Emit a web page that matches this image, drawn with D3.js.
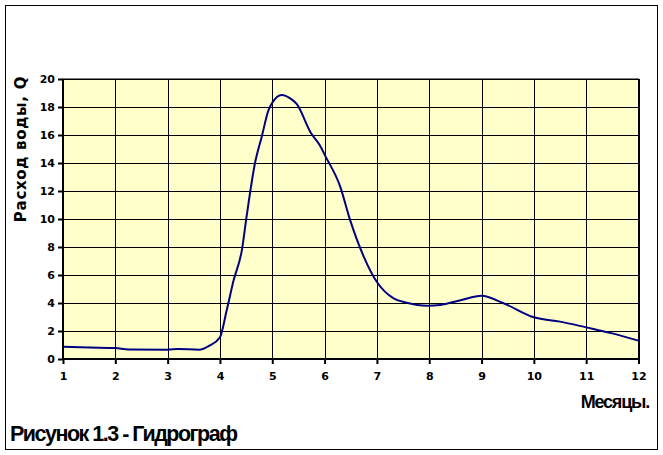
<!DOCTYPE html>
<html><head><meta charset="utf-8">
<script src="https://cdn.jsdelivr.net/npm/d3@7/dist/d3.min.js"></script>
<style>
html,body{margin:0;padding:0;background:#fff;}
svg{display:block;}
</style></head>
<body>
<script>
const months = [1, 1.5, 2, 2.25, 3, 3.2, 3.6, 3.8, 4, 4.13, 4.26, 4.42, 4.51, 4.67, 4.8, 4.93, 5.0, 5.18, 5.35, 5.47, 5.73, 5.92, 6, 6.3, 6.49, 6.75, 7, 7.32, 7.57, 7.96, 8.21, 8.6, 9.0, 9.42, 10, 10.5, 11, 11.5, 12];
const flow = [0.88, 0.82, 0.78, 0.68, 0.66, 0.72, 0.66, 0.95, 1.55, 3.5, 5.6, 7.8, 10.2, 14.0, 15.9, 17.8, 18.3, 18.86, 18.6, 18.2, 16.2, 15.2, 14.6, 12.3, 9.9, 7.3, 5.5, 4.33, 4.02, 3.81, 3.86, 4.2, 4.52, 3.98, 2.98, 2.67, 2.26, 1.83, 1.31];
const xTicks = [1,2,3,4,5,6,7,8,9,10,11,12];
const yTicks = [0,2,4,6,8,10,12,14,16,18,20];
const yTitle = "Расход воды, Q";
const xTitle = "Месяцы.";
const caption = "Рисунок 1.3 - Гидрограф";

const W = 663, H = 455;
const svg = d3.select("body").append("svg").attr("width", W).attr("height", H);

// outer frame
svg.append("rect").attr("x",5.5).attr("y",5.5).attr("width",652).attr("height",444)
  .attr("fill","#fff").attr("stroke","#000").attr("stroke-width",1);

const x = d3.scaleLinear().domain([1,12]).range([63,638.5]);
const y = d3.scaleLinear().domain([0,20]).range([359,79]);

// plot area
svg.append("rect").attr("x",x(1)).attr("y",y(20)).attr("width",x(12)-x(1)).attr("height",y(0)-y(20))
  .attr("fill","#FFFFCC").attr("stroke","#000").attr("stroke-width",1);

// grid
const g = svg.append("g");
g.selectAll(".hg").data(yTicks.slice(1)).enter().append("line")
  .attr("x1",x(1)).attr("x2",x(12)).attr("y1",d=>Math.round(y(d))+0.5).attr("y2",d=>Math.round(y(d))+0.5)
  .attr("stroke","#000").attr("stroke-width",1);
g.selectAll(".vg").data(xTicks.slice(1)).enter().append("line")
  .attr("y1",y(0)).attr("y2",y(20)).attr("x1",d=>Math.round(x(d))+0.5).attr("x2",d=>Math.round(x(d))+0.5)
  .attr("stroke","#000").attr("stroke-width",1);

// axes
const yAxis = d3.axisLeft(y).tickValues(yTicks).tickSize(5).tickPadding(3).tickFormat(d3.format("d"));
const xAxis = d3.axisBottom(x).tickValues(xTicks).tickSize(5).tickPadding(8).tickFormat(d3.format("d"));
const ya = svg.append("g").attr("transform","translate(63,0)").call(yAxis);
const xa = svg.append("g").attr("transform","translate(0,359)").call(xAxis);
[ya,xa].forEach(a=>{
  a.select(".domain").attr("stroke","#000").attr("stroke-width",2);
  a.selectAll(".tick line").attr("stroke","#000").attr("stroke-width",2);
  a.selectAll("text").attr("font-family","'DejaVu Sans', Verdana, sans-serif").attr("font-weight","bold")
    .attr("font-size","11px").attr("fill","#000");
});
xa.select(".domain").attr("d", `M${x(1)},0H${x(12)}`);
ya.select(".domain").attr("d", `M0,${y(0)}V${y(20)}`);

// line
const line = d3.line().x((d,i)=>x(months[i])).y(d=>y(d)).curve(d3.curveMonotoneX);
svg.append("path").datum(flow).attr("d",line).attr("fill","none")
  .attr("stroke","#000080").attr("stroke-width",2);

// titles
svg.append("text").attr("transform","translate(26,149) rotate(-90)").attr("text-anchor","middle")
  .attr("font-family","'DejaVu Sans', Verdana, sans-serif").attr("font-weight","bold").attr("font-size","15px")
  .attr("letter-spacing","0.7px").text(yTitle);
svg.append("text").attr("x",649).attr("y",408).attr("text-anchor","end")
  .attr("font-family","'Liberation Sans', Arial, sans-serif").attr("font-weight","bold").attr("font-size","18px")
  .attr("letter-spacing","-1.2px").text(xTitle);
svg.append("text").attr("x",10).attr("y",441)
  .attr("font-family","'Liberation Sans', Arial, sans-serif").attr("font-weight","bold").attr("font-size","21.5px")
  .attr("letter-spacing","-1.5px").text(caption);
</script>
</body></html>
